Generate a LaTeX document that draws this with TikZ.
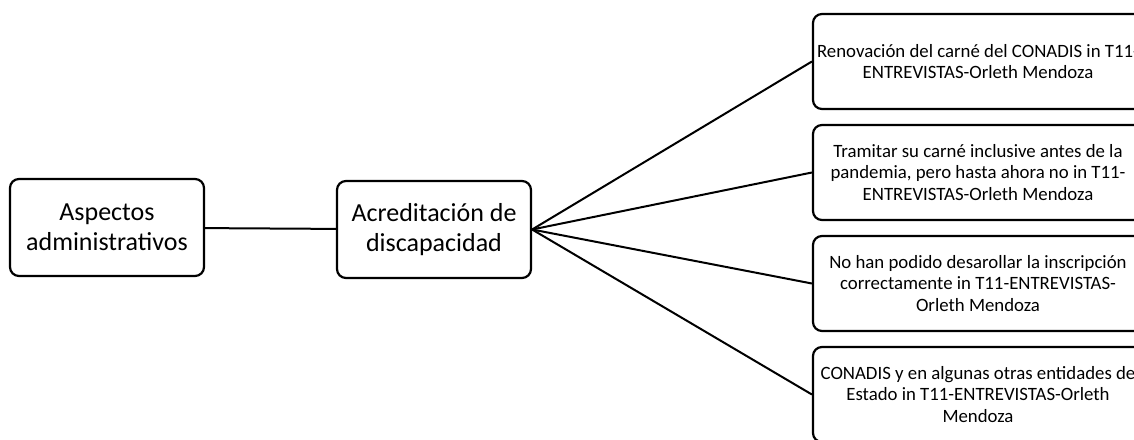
\documentclass[tikz,border=0pt]{standalone}
\usepackage{fontspec}
\setmainfont{Carlito}
\usetikzlibrary{positioning}
\tikzset{%
  % Specifications for style of nodes:
            base/.style = {rectangle, rounded corners=9pt, draw=black,
                           line width=2.2pt, text centered, align=center,
                           inner sep=0pt},
        mainbox/.style = {base, minimum width=194pt, minimum height=97pt,
                           font=\fontsize{26}{30}\selectfont},
       quotebox/.style = {base, minimum width=330pt, minimum height=95pt,
                           font=\fontsize{18.8}{21.5}\selectfont},
           link/.style = {line width=2pt},
}
\begin{document}
\begin{tikzpicture}[x=1pt, y=-1pt]
  \useasboundingbox (0,0) rectangle (1134,439);
  % Specification of nodes (position, etc.)
  \node (aspectos)		[mainbox] at (107,227.5) {Aspectos\\administrativos};
  \node (acreditacion)	[mainbox] at (434,229.5) {Acreditación de\\discapacidad};

  \node (renovacion)	[quotebox] at (978,61.5) {Renovación del carné del CONADIS in T11-\\ENTREVISTAS-Orleth Mendoza};
  \node (tramitar)		[quotebox] at (978,172.5) {Tramitar su carné inclusive antes de la\\pandemia, pero hasta ahora no in T11-\\ENTREVISTAS-Orleth Mendoza};
  \node (inscripcion)	[quotebox] at (978,283.5) {No han podido desarollar la inscripción\\correctamente in T11-ENTREVISTAS-\\Orleth Mendoza};
  \node (entidades)		[quotebox] at (978,394.5) {CONADIS y en algunas otras entidades de\\Estado in T11-ENTREVISTAS-Orleth\\Mendoza};

  \draw[link]			(aspectos) -- (acreditacion);
  \draw[link]			(acreditacion.east) -- (renovacion.west);
  \draw[link]			(acreditacion.east) -- (tramitar.west);
  \draw[link]			(acreditacion.east) -- (inscripcion.west);
  \draw[link]			(acreditacion.east) -- (entidades.west);

\end{tikzpicture}
\end{document}
